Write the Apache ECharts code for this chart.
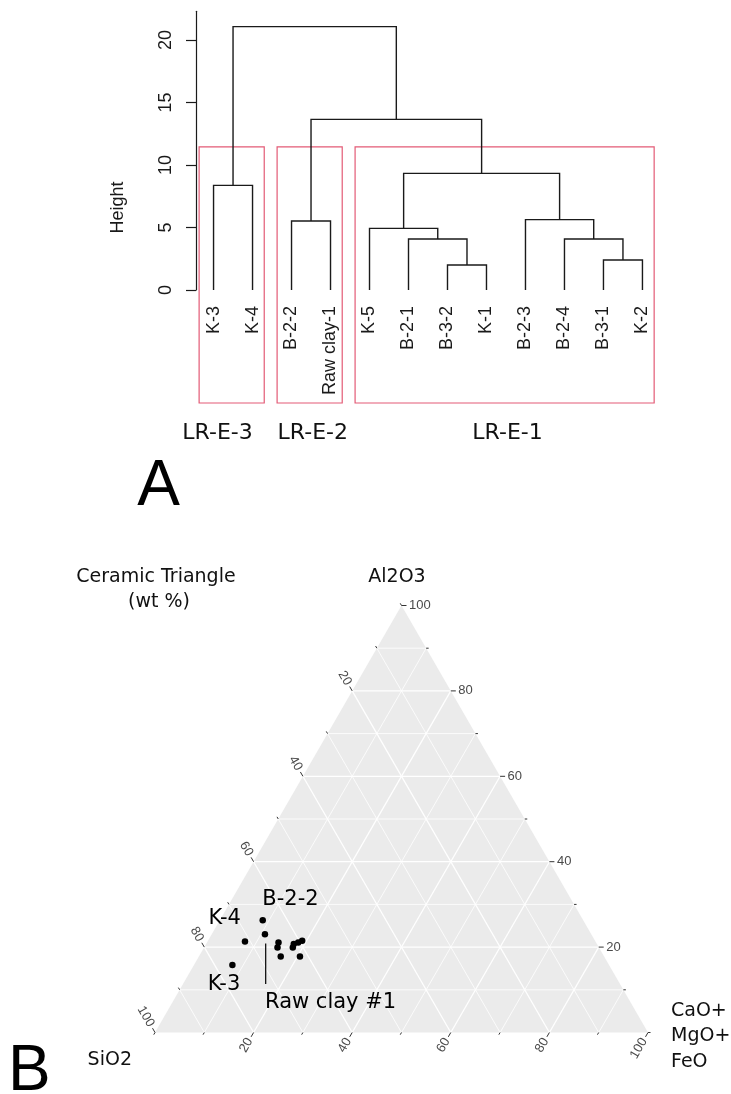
<!DOCTYPE html>
<html><head><meta charset="utf-8">
<script src="https://cdn.jsdelivr.net/npm/echarts@6/dist/echarts.min.js"></script>
<style>html,body{margin:0;padding:0;background:#fff}#c{width:731px;height:1094px}</style>
</head><body><div id="c"></div>
<script>
// ---------- Panel A: dendrogram data ----------
const leafNames = ['K-3','K-4','B-2-2','Raw clay-1','K-5','B-2-1','B-3-2','K-1','B-2-3','B-2-4','B-3-1','K-2'];
// hclust-style merges: negative = leaf position (1-based), positive = earlier merge (1-based)
const mergeLeft   = [-7, -11, -6, -10, -5, -3, -9, -1, 5, 6, 8];
const mergeRight  = [-8, -12,  1,   2,  3, -4,  4, -2, 7, 9, 10];
const mergeHeight = [2.0, 2.4, 4.08, 4.08, 4.93, 5.52, 5.63, 8.37, 9.33, 13.65, 21.07];
const heightTicks = [0, 5, 10, 15, 20];
const clusterNames = ['LR-E-3', 'LR-E-2', 'LR-E-1'];
const clusterFirstLeaf = [1, 3, 5];
const clusterLastLeaf = [2, 4, 12];
const cutHeight = 11.45;

// ---------- Panel B: ternary data (wt %) ----------
const sampleNames = ['B-2-2', 'Raw clay #1', 'K-4', 'K-3', '', '', '', '', '', '', '', ''];
const sio2  = [65.0, 66.2, 71.1, 76.4, 64.4, 65.2, 65.6, 59.4, 60.4, 61.5, 62.1, 61.7];
const al2o3 = [26.3, 23.0, 21.3, 15.8, 21.1, 19.9, 17.8, 21.5, 21.1, 20.7, 19.9, 17.8];
const flux  = [ 8.7, 10.8,  7.6,  7.8, 14.5, 14.9, 16.6, 19.1, 18.5, 17.8, 18.0, 20.5];
const ternaryTickValues = [0, 10, 20, 30, 40, 50, 60, 70, 80, 90, 100];
const ternaryLabelValues = [20, 40, 60, 80, 100];

// ---------- derived ----------
const mergeX = [];
const nodeX = id => id < 0 ? -id : mergeX[id - 1];
const nodeH = id => id < 0 ? 0 : mergeHeight[id - 1];
for (let j = 0; j < mergeLeft.length; j++) mergeX.push((nodeX(mergeLeft[j]) + nodeX(mergeRight[j])) / 2);
const dendroData = mergeLeft.map((l, j) => [nodeX(l), nodeH(l), nodeX(mergeRight[j]), nodeH(mergeRight[j]), mergeHeight[j]]);
const leafData = leafNames.map((n, i) => [i + 1, 0]);
const boxData = clusterFirstLeaf.map((f, i) => [f - 0.37, clusterLastLeaf[i] + 0.3, cutHeight]);

const H = Math.sqrt(3) / 2;
const toCart = (s, a, c) => { const t = s + a + c; return [(c + a / 2) / t * 100, a / t * 100 * H]; };
const ternaryPoints = sio2.map((s, i) => toCart(s, al2o3[i], flux[i]));

const DARK = '#1a1a1a';
const chart = echarts.init(document.getElementById('c'), null, {renderer: 'canvas'});

function ternaryFrame(params, api) {
  const T = (s, a, c) => api.coord(toCart(s, a, c));
  const ch = [];
  ch.push({type: 'polygon', shape: {points: [T(100, 0, 0), T(0, 100, 0), T(0, 0, 100)]}, style: {fill: '#ebebeb', stroke: null}});
  for (let k = 10; k <= 90; k += 10) {
    const major = k % 20 === 0;
    const st = {stroke: '#ffffff', lineWidth: major ? 1.3 : 0.8, fill: null};
    const segs = [
      [T(100 - k, k, 0), T(0, k, 100 - k)],
      [T(100 - k, 0, k), T(0, 100 - k, k)],
      [T(k, 0, 100 - k), T(k, 100 - k, 0)]
    ];
    segs.forEach(sg => ch.push({type: 'line', shape: {x1: sg[0][0], y1: sg[0][1], x2: sg[1][0], y2: sg[1][1]}, style: st}));
  }
  return {type: 'group', children: ch};
}

function ternaryAxes(params, api) {
  const T = (s, a, c) => api.coord(toCart(s, a, c));
  const ch = [];
  const font = '13px "Liberation Sans", Arial, sans-serif';
  const sides = [
    {pt: k => T(0, k, 100 - k), d: [1, 0], rot: 0, align: 'left'},          // Al2O3 (right side)
    {pt: k => T(k, 100 - k, 0), d: [-0.5, -H], rot: -Math.PI / 3, align: 'right'}, // SiO2 (left side)
    {pt: k => T(100 - k, 0, k), d: [-0.5, H], rot: Math.PI / 3, align: 'right'}    // CaO+MgO+FeO (bottom)
  ];
  sides.forEach(sd => {
    ternaryTickValues.forEach(k => {
      const p = sd.pt(k);
      const labelled = ternaryLabelValues.indexOf(k) >= 0;
      const len = labelled ? 5 : 2.5;
      ch.push({type: 'line', shape: {x1: p[0], y1: p[1], x2: p[0] + sd.d[0] * len, y2: p[1] + sd.d[1] * len},
        style: {stroke: '#333', lineWidth: 1}});
      if (labelled) {
        ch.push({type: 'text', x: p[0] + sd.d[0] * (len + 2.5), y: p[1] + sd.d[1] * (len + 2.5), rotation: sd.rot,
          style: {text: String(k), font: font, fill: '#4a4a4a', align: sd.align, verticalAlign: 'middle'}});
      }
    });
  });
  return {type: 'group', children: ch};
}

const option = {
  animation: false,
  backgroundColor: '#ffffff',
  grid: [
    {left: 196, top: 11.25, width: 464, height: 278.75},
    {left: 155, top: 605.5, width: 493, height: 427}
  ],
  xAxis: [
    {gridIndex: 0, type: 'value', min: 0.55, max: 12.45, show: false},
    {gridIndex: 1, type: 'value', min: 0, max: 100, show: false}
  ],
  yAxis: [
    {gridIndex: 0, type: 'value', min: 0, max: 22.3,
      axisLine: {show: true, lineStyle: {color: DARK, width: 1.2}},
      axisTick: {show: true, length: 10, customValues: heightTicks, lineStyle: {color: DARK, width: 1.2}},
      axisLabel: {show: true, customValues: heightTicks, rotate: 90, margin: 21, fontSize: 18,
        fontFamily: '"Liberation Sans", Arial, sans-serif', color: DARK},
      splitLine: {show: false}},
    {gridIndex: 1, type: 'value', min: 0, max: 100 * H, show: false}
  ],
  series: [
    {type: 'custom', xAxisIndex: 0, yAxisIndex: 0, data: boxData, clip: false, z: 1,
      renderItem: (params, api) => {
        const p0 = api.coord([api.value(0), api.value(2)]);
        const p1 = api.coord([api.value(1), 0]);
        const bottom = p1[1] + 113;
        return {type: 'rect', shape: {x: p0[0], y: p0[1], width: p1[0] - p0[0], height: bottom - p0[1]},
          style: {stroke: '#e35b76', lineWidth: 1.2, fill: null}};
      }},
    {type: 'custom', xAxisIndex: 0, yAxisIndex: 0, data: dendroData, clip: false, z: 2,
      renderItem: (params, api) => {
        const pts = [
          api.coord([api.value(0), api.value(1)]),
          api.coord([api.value(0), api.value(4)]),
          api.coord([api.value(2), api.value(4)]),
          api.coord([api.value(2), api.value(3)])
        ];
        return {type: 'polyline', shape: {points: pts}, style: {stroke: DARK, lineWidth: 1.4, fill: null}};
      }},
    {type: 'custom', xAxisIndex: 0, yAxisIndex: 0, data: leafData, clip: false, z: 3,
      renderItem: (params, api) => {
        const p = api.coord([api.value(0), api.value(1)]);
        return {type: 'text', x: p[0], y: p[1] + 16, rotation: Math.PI / 2,
          style: {text: leafNames[params.dataIndex], font: '18px "Liberation Sans", Arial, sans-serif',
            fill: DARK, align: 'right', verticalAlign: 'middle'}};
      }},
    {type: 'custom', xAxisIndex: 1, yAxisIndex: 1, data: [[50, 40]], clip: false, z: 1, silent: true,
      renderItem: ternaryFrame},
    {type: 'custom', xAxisIndex: 1, yAxisIndex: 1, data: [[50, 40]], clip: false, z: 2, silent: true,
      renderItem: ternaryAxes},
    {type: 'scatter', xAxisIndex: 1, yAxisIndex: 1, data: ternaryPoints, symbol: 'circle', symbolSize: 6.5,
      itemStyle: {color: '#000', opacity: 1}, z: 5}
  ],
  graphic: [
    {type: 'text', x: 118, y: 207.5, rotation: Math.PI / 2,
      style: {text: 'Height', font: '18px "Liberation Sans", Arial, sans-serif', fill: DARK, align: 'center', verticalAlign: 'middle'}},
    {type: 'text', x: 217.5, y: 433, style: {text: clusterNames[0], font: '22px "DejaVu Sans", sans-serif', fill: '#111', align: 'center', verticalAlign: 'middle'}},
    {type: 'text', x: 312.8, y: 433, style: {text: clusterNames[1], font: '22px "DejaVu Sans", sans-serif', fill: '#111', align: 'center', verticalAlign: 'middle'}},
    {type: 'text', x: 507.5, y: 433, style: {text: clusterNames[2], font: '22px "DejaVu Sans", sans-serif', fill: '#111', align: 'center', verticalAlign: 'middle'}},
    {type: 'text', x: 158.5, y: 487, style: {text: 'A', font: '64px "Liberation Sans", Arial, sans-serif', fill: '#000', align: 'center', verticalAlign: 'middle'}},
    {type: 'text', x: 8, y: 1072, style: {text: 'B', font: '64px "Liberation Sans", Arial, sans-serif', fill: '#000', align: 'left', verticalAlign: 'middle'}},
    {type: 'text', x: 156, y: 577, style: {text: 'Ceramic Triangle', font: '19px "DejaVu Sans", sans-serif', fill: '#111', align: 'center', verticalAlign: 'middle'}},
    {type: 'text', x: 159, y: 602, style: {text: '(wt %)', font: '19px "DejaVu Sans", sans-serif', fill: '#111', align: 'center', verticalAlign: 'middle'}},
    {type: 'text', x: 397, y: 577, style: {text: 'Al2O3', font: '19px "DejaVu Sans", sans-serif', fill: '#111', align: 'center', verticalAlign: 'middle'}},
    {type: 'text', x: 132, y: 1060, style: {text: 'SiO2', font: '19px "DejaVu Sans", sans-serif', fill: '#111', align: 'right', verticalAlign: 'middle'}},
    {type: 'text', x: 671, y: 1011.5, style: {text: 'CaO+', font: '19px "DejaVu Sans", sans-serif', fill: '#111', align: 'left', verticalAlign: 'middle'}},
    {type: 'text', x: 671, y: 1036.5, style: {text: 'MgO+', font: '19px "DejaVu Sans", sans-serif', fill: '#111', align: 'left', verticalAlign: 'middle'}},
    {type: 'text', x: 671, y: 1062, style: {text: 'FeO', font: '19px "DejaVu Sans", sans-serif', fill: '#111', align: 'left', verticalAlign: 'middle'}},
    {type: 'text', x: 290.5, y: 900, z: 10, style: {text: sampleNames[0], font: '21px "DejaVu Sans", sans-serif', fill: '#000', align: 'center', verticalAlign: 'middle'}},
    {type: 'text', x: 265, y: 1003, z: 10, style: {text: sampleNames[1], font: '21px "DejaVu Sans", sans-serif', fill: '#000', align: 'left', verticalAlign: 'middle'}},
    {type: 'text', x: 224.7, y: 918.7, z: 10, style: {text: sampleNames[2], font: '21px "DejaVu Sans", sans-serif', fill: '#000', align: 'center', verticalAlign: 'middle'}},
    {type: 'text', x: 224, y: 984.7, z: 10, style: {text: sampleNames[3], font: '21px "DejaVu Sans", sans-serif', fill: '#000', align: 'center', verticalAlign: 'middle'}},
    {type: 'line', z: 10, shape: {x1: 265.7, y1: 943.5, x2: 265.7, y2: 984}, style: {stroke: '#000', lineWidth: 1.2}}
  ]
};
chart.setOption(option);
</script>
</body></html>
